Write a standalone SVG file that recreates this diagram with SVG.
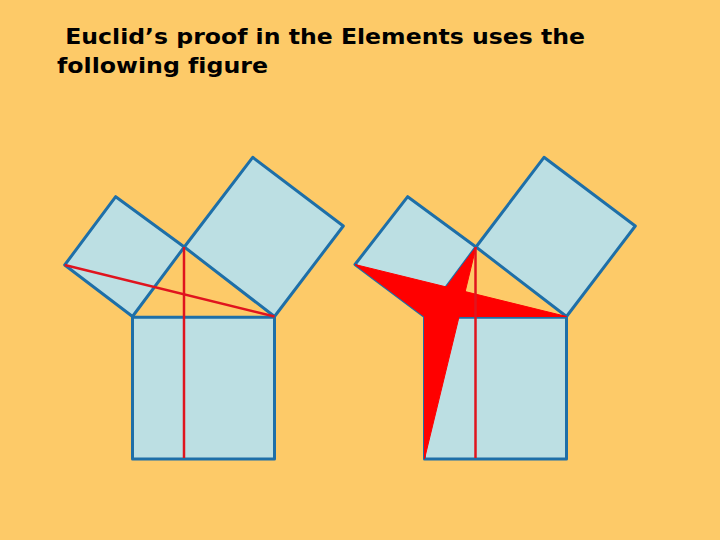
<svg xmlns="http://www.w3.org/2000/svg" width="720" height="540" viewBox="0 0 720 540">
<style>
.sq{fill:#BCDFE3;stroke:#1E6FA8;stroke-width:3;stroke-linejoin:round}
.rl{stroke:#E0141E;stroke-width:2.5;fill:none}
.rf{fill:#FF0000;stroke:#FF0000;stroke-width:1}
.t{font-family:"DejaVu Sans",Verdana,sans-serif;font-weight:bold;font-size:21px;fill:#000;font-variant-ligatures:none}
</style>
<rect width="720" height="540" fill="#FDCA68"/>
<g id="title">
<text class="t" x="57" y="44" xml:space="preserve" textLength="528" lengthAdjust="spacingAndGlyphs"> Euclid’s proof in the Elements uses the</text>
<text class="t" x="57" y="73" textLength="211" lengthAdjust="spacingAndGlyphs">following figure</text>
</g>
<g id="left-figure">
<polygon class="sq" points="132.5,316.5 184.3,247 115.7,196.7 64.7,265"/>
<polygon class="sq" points="184.3,247 252.7,157.3 343.3,226 274.5,316.5"/>
<polygon class="sq" points="132.5,317.3 274.5,317.3 274.5,459 132.5,459"/>
</g>
<g id="right-figure">
<polygon class="sq" points="424.5,316.5 476,247 407.7,196.7 355,264.5"/>
<polygon class="sq" points="476,247 544,157.3 635.3,226 566.5,316.5"/>
<polygon class="sq" points="424.5,317.3 566.5,317.3 566.5,459 424.5,459"/>
<polygon class="rf" points="355,264.5 566.5,316.5 424.5,316.5"/>
<polygon class="rf" points="476,247 424.5,316.5 424.5,459"/>
</g>
<g id="connectors">
<line class="rl" x1="64.7" y1="265" x2="274.5" y2="316.5"/>
<line class="rl" x1="184" y1="247" x2="184" y2="458"/>
<line class="rl" x1="475.5" y1="247" x2="475.5" y2="458"/>
</g>
</svg>
